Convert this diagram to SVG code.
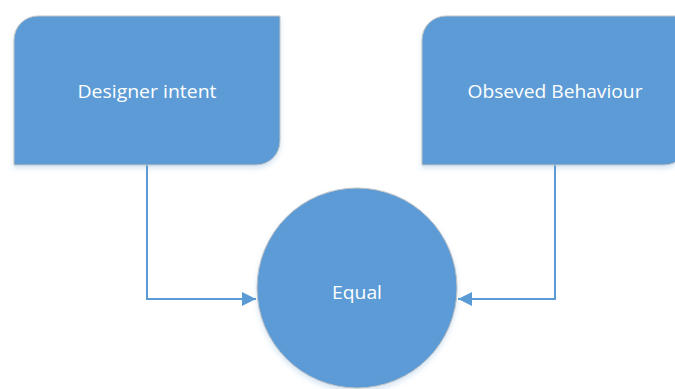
<svg xmlns="http://www.w3.org/2000/svg" width="675" height="389" viewBox="0 0 675 389">
  <style>
    .shape { fill: #5b9bd5; stroke: #c4c4c4; stroke-width: 1; filter: url(#soft); }
    .label { fill: #ffffff; font-family: "Open Sans", "Liberation Sans", sans-serif; font-size: 18px; text-anchor: middle; }
    .link { fill: none; stroke: #5b9bd5; stroke-width: 2; }
  </style>
  <defs>
    <filter id="soft" x="-10%" y="-10%" width="120%" height="130%">
      <feDropShadow dx="0" dy="3" stdDeviation="2.5" flood-color="#5b9bd5" flood-opacity="0.25"/>
    </filter>
    <marker id="arrow" viewBox="0 0 14 14" refX="14" refY="7" markerWidth="14" markerHeight="14" markerUnits="userSpaceOnUse" orient="auto">
      <path d="M0,0 L14,7 L0,14 Z" fill="#5b9bd5"/>
    </marker>
  </defs>

  <g id="connectors">
    <path class="link" d="M147,165 V299 H256" marker-end="url(#arrow)"/>
    <path class="link" d="M555,165 V299 H458" marker-end="url(#arrow)"/>
  </g>

  <g id="designer-intent">
    <path class="shape" d="M38,16 H280 V141 A24,24 0 0 1 256,165 H14 V40 A24,24 0 0 1 38,16 Z"/>
    <text class="label" x="147" y="98" textLength="139" lengthAdjust="spacingAndGlyphs">Designer intent</text>
  </g>

  <g id="observed-behaviour">
    <path class="shape" d="M446,16 H688 V141 A24,24 0 0 1 664,165 H422 V40 A24,24 0 0 1 446,16 Z"/>
    <text class="label" x="555" y="98" textLength="175" lengthAdjust="spacingAndGlyphs">Obseved Behaviour</text>
  </g>

  <g id="equal">
    <circle class="shape" cx="357" cy="288" r="100"/>
    <text class="label" x="357" y="299" textLength="50" lengthAdjust="spacingAndGlyphs">Equal</text>
  </g>
</svg>
